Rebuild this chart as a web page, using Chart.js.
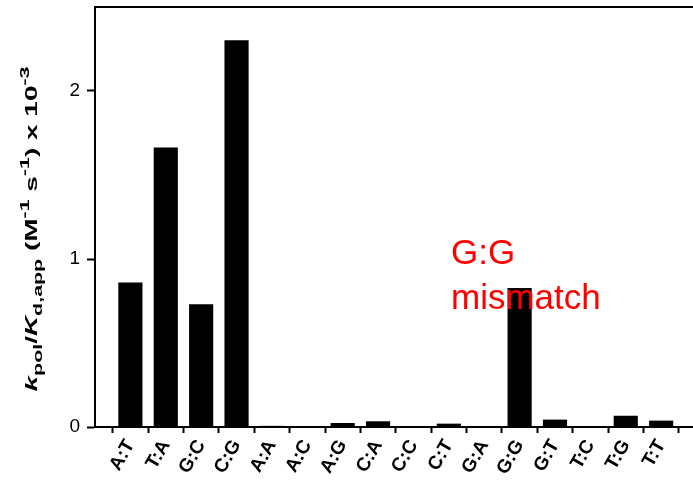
<!DOCTYPE html>
<html>
<head>
<meta charset="utf-8">
<script src="https://cdn.jsdelivr.net/npm/chart.js@4"></script>
<style>
  body { margin: 0; background: #fff; }
  canvas { display: block; }
</style>
</head>
<body>
<canvas id="chart" width="693" height="483"></canvas>
<script>
// Base pairs on the x axis, and the rate for each one (x 10^-3)
const pairs = ['A:T', 'T:A', 'G:C', 'C:G', 'A:A', 'A:C', 'A:G', 'C:A',
               'C:C', 'C:T', 'G:A', 'G:G', 'G:T', 'T:C', 'T:G', 'T:T'];
const rates = [0.858, 1.662, 0.729, 2.30, 0.005, 0, 0.022, 0.032,
               0, 0.018, 0, 0.825, 0.042, 0, 0.065, 0.036];
const yTicks = [0, 1, 2];
const noteLines = ['G:G', 'mismatch'];

const FONT = "'Liberation Sans', Arial, Helvetica, sans-serif";


// y axis title with italics, subscripts and superscripts
// [text, italic, shift]  shift: 1 = subscript, -1 = superscript
const yTitleParts = [
    ['k', true, 0], ['pol', false, 1], ['/', false, 0], ['K', true, 0], ['d,app', false, 1],
    [' (M', false, 0], ['-1', false, -1], [' s', false, 0], ['-1', false, -1],
    [') x 10', false, 0], ['-3', false, -1]
];

const yTitlePlugin = {
    id: 'yTitle',
    afterDraw(chart) {
        const ctx = chart.ctx;
        const mainSize = 17, smallSize = 13;
        const fontFor = (p) => (p[1] ? 'italic ' : '') + 'bold ' + (p[2] ? smallSize : mainSize) + 'px ' + FONT;
        let total = 0;
        yTitleParts.forEach(p => {
            ctx.font = fontFor(p);
            total += ctx.measureText(p[0]).width;
        });
        const stretch = 325 / total;
        ctx.save();
        ctx.translate(37, 229);
        ctx.rotate(-Math.PI / 2);
        ctx.scale(stretch, 1);
        ctx.fillStyle = '#000';
        ctx.textBaseline = 'alphabetic';
        let x = -total / 2;
        yTitleParts.forEach(p => {
            ctx.font = fontFor(p);
            let dy = 0;
            if (p[2] === 1) dy = 5;
            if (p[2] === -1) dy = -8;
            ctx.fillText(p[0], x, dy);
            x += ctx.measureText(p[0]).width;
        });
        ctx.restore();
    }
};

// top frame line and the red note
const extrasPlugin = {
    id: 'extras',
    afterDraw(chart) {
        const ctx = chart.ctx;
        const area = chart.chartArea;
        ctx.save();
        ctx.strokeStyle = '#000';
        ctx.lineWidth = 2;
        ctx.beginPath();
        ctx.moveTo(area.left - 1, area.top);
        ctx.lineTo(area.right, area.top);
        ctx.stroke();

        ctx.fillStyle = '#ff0000';
        ctx.font = '35px ' + FONT;
        ctx.textAlign = 'left';
        ctx.fillText(noteLines[0], 451, 264);
        ctx.fillText(noteLines[1], 451, 309);
        ctx.restore();
    }
};


document.addEventListener('DOMContentLoaded', function() {
    const points = [];
    for (let i = 0; i < pairs.length; i++) {
        points.push({ x: i + 1, y: rates[i] });
    }

    new Chart(document.getElementById('chart'), {
        type: 'bar',
        data: {
            datasets: [{
                data: points,
                backgroundColor: '#000',
                borderWidth: 0,
                barThickness: 23.5
            }]
        },
        options: {
            responsive: false,
            animation: false,
            devicePixelRatio: 1,
            layout: { padding: { top: 7, right: 0, left: 0, bottom: 0 } },
            plugins: {
                legend: { display: false },
                tooltip: { enabled: false }
            },
            scales: {
                x: {
                    type: 'linear',
                    offset: false,
                    min: 0,
                    max: 16.9,
                    afterBuildTicks: scale => {
                        scale.ticks = [0].concat(pairs.map((p, i) => i + 1)).map(v => ({ value: v }));
                    },
                    afterFit: scale => {
                        scale.height = 56;
                        scale.paddingLeft = 0;
                        scale.paddingRight = 0;
                    },
                    grid: {
                        drawOnChartArea: false,
                        drawTicks: true,
                        tickLength: 6,
                        tickColor: '#000',
                        tickWidth: 2
                    },
                    border: { display: true, color: '#000', width: 2 },
                    ticks: {
                        autoSkip: false,
                        minRotation: 60,
                        maxRotation: 60,
                        padding: 3,
                        color: '#000',
                        font: { family: FONT, size: 19, weight: 'bold' },
                        callback: v => pairs[v - 1] || ''
                    }
                },
                y: {
                    min: 0,
                    max: 2.5,
                    afterBuildTicks: scale => {
                        scale.ticks = yTicks.map(v => ({ value: v }));
                    },
                    afterFit: scale => {
                        scale.width = 95;
                        scale.paddingTop = 0;
                        scale.paddingBottom = 0;
                    },
                    grid: {
                        drawOnChartArea: false,
                        drawTicks: true,
                        tickLength: 8,
                        tickColor: '#000',
                        tickWidth: 2
                    },
                    border: { display: true, color: '#000', width: 2 },
                    ticks: {
                        padding: 7,
                        color: '#000',
                        font: { family: FONT, size: 19 },
                        callback: v => String(v)
                    }
                }
            }
        },
        plugins: [yTitlePlugin, extrasPlugin]
    });
});
</script>
</body>
</html>
